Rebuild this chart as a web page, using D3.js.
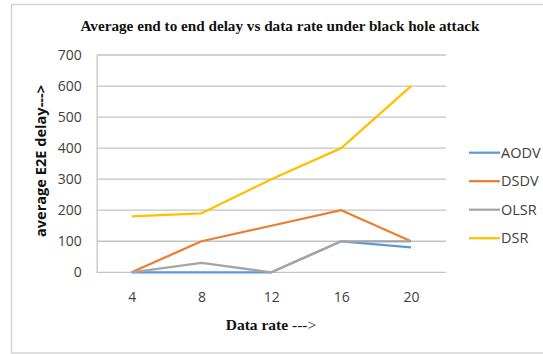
<!DOCTYPE html>
<html>
<head>
<meta charset="utf-8">
<script src="https://cdn.jsdelivr.net/npm/d3@7/dist/d3.min.js"></script>
<style>
  html, body { margin: 0; padding: 0; background: #fff; }
  svg { display: block; }
</style>
</head>
<body>
<svg id="chart" width="543" height="354"></svg>
<script>
// Data rate categories and E2E delay per routing protocol
const categories = ["4", "8", "12", "16", "20"];
const aodv = [0, 0, 0, 100, 80];
const dsdv = [0, 100, 150, 200, 100];
const olsr = [0, 30, 0, 100, 100];
const dsr  = [180, 190, 300, 400, 600];
const yTicks = [0, 100, 200, 300, 400, 500, 600, 700];

const series = [
  { name: "AODV", values: aodv, color: "#5b9bd5" },
  { name: "DSDV", values: dsdv, color: "#ed7d31" },
  { name: "OLSR", values: olsr, color: "#a5a5a5" },
  { name: "DSR",  values: dsr,  color: "#ffc000" }
];

const svg = d3.select("#chart");

// outer chart frame
svg.append("rect")
  .attr("x", 11.5).attr("y", 4.5)
  .attr("width", 540).attr("height", 348.5)
  .attr("fill", "#fff")
  .attr("stroke", "#d4d4d4").attr("stroke-width", 1.5);

const plot = { left: 96.7, right: 446, top: 55, bottom: 272.3 };

const x = d3.scalePoint()
  .domain(categories)
  .range([plot.left, plot.right])
  .padding(0.5);

const y = d3.scaleLinear()
  .domain([0, 700])
  .range([plot.bottom, plot.top]);

const tickFont = "'Open Sans', sans-serif";

// horizontal gridlines
svg.append("g")
  .selectAll("line")
  .data(yTicks)
  .join("line")
  .attr("x1", plot.left).attr("x2", plot.right)
  .attr("y1", d => y(d)).attr("y2", d => y(d))
  .attr("stroke", "#c3c3c3").attr("stroke-width", 1.3);

// y axis
const yAxis = svg.append("g")
  .attr("transform", `translate(${plot.left},0)`)
  .call(d3.axisLeft(y).tickValues(yTicks).tickSize(0).tickPadding(15));
yAxis.select(".domain").attr("stroke", "#c3c3c3").attr("stroke-width", 1.3);
yAxis.selectAll("text")
  .attr("font-family", tickFont)
  .attr("font-size", 14)
  .attr("fill", "#404040");

// x axis
const xAxis = svg.append("g")
  .attr("transform", `translate(0,${plot.bottom})`)
  .call(d3.axisBottom(x).tickSize(0).tickPadding(20));
xAxis.select(".domain").remove();
xAxis.selectAll("text")
  .attr("font-family", tickFont)
  .attr("font-size", 14)
  .attr("fill", "#404040");

// series lines
const line = d3.line()
  .x((d, i) => x(categories[i]))
  .y(d => y(d));

svg.append("g")
  .selectAll("path")
  .data(series)
  .join("path")
  .attr("d", s => line(s.values))
  .attr("fill", "none")
  .attr("stroke", s => s.color)
  .attr("stroke-width", 2.25)
  .attr("stroke-linejoin", "round");

// legend
const legend = svg.append("g")
  .selectAll("g")
  .data(series)
  .join("g")
  .attr("transform", (s, i) => `translate(469,${152.7 + i * 28.5})`);
legend.append("line")
  .attr("x1", 0).attr("x2", 31)
  .attr("stroke", d => d.color).attr("stroke-width", 2.25);
legend.append("text")
  .attr("x", 32).attr("dy", "0.35em")
  .attr("font-family", tickFont)
  .attr("font-size", 14.5)
  .attr("fill", "#404040")
  .text(d => d.name);

// title
svg.append("text")
  .attr("x", 280).attr("y", 31)
  .attr("text-anchor", "middle")
  .attr("font-family", "'Liberation Serif', 'Times New Roman', serif")
  .attr("font-weight", "bold")
  .attr("font-size", 15.2)
  .attr("fill", "#111")
  .text("Average end to end delay vs data rate under black hole attack");

// x axis title
const xt = svg.append("text")
  .attr("x", 271).attr("y", 330)
  .attr("text-anchor", "middle")
  .attr("font-family", "'Liberation Serif', 'Times New Roman', serif")
  .attr("font-size", 15.5)
  .attr("fill", "#111");
xt.append("tspan").attr("font-weight", "bold").text("Data rate ");
xt.append("tspan").text("--->");

// y axis title
svg.append("text")
  .attr("transform", `translate(46,161) rotate(-90)`)
  .attr("text-anchor", "middle")
  .attr("font-family", tickFont)
  .attr("font-weight", "bold")
  .attr("font-size", 14.6)
  .attr("fill", "#111")
  .text("average E2E delay--->");
</script>
</body>
</html>
